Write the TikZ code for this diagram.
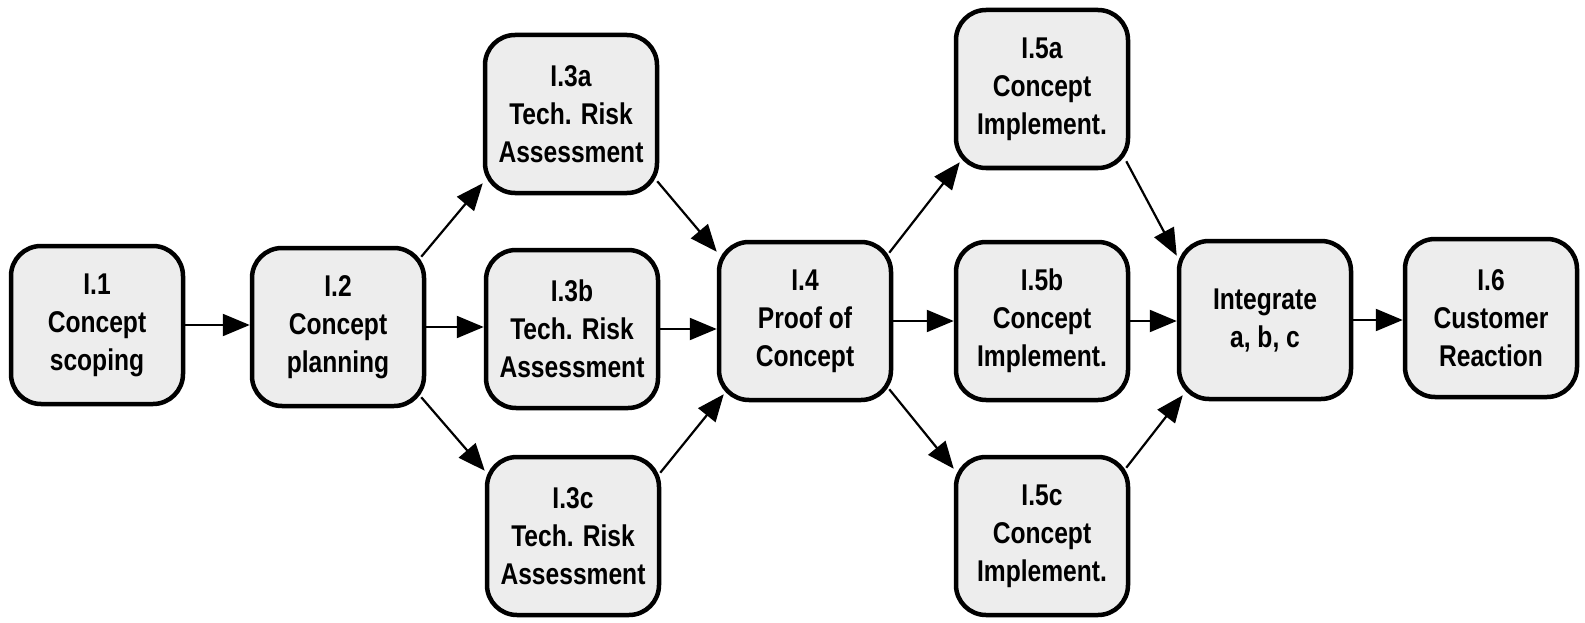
\documentclass[tikz,border=0pt]{standalone}
\usepackage{fontspec}
\newfontfamily\boxfont{Liberation Sans}[FakeStretch=0.82]
\usetikzlibrary{arrows.meta,calc}
\definecolor{boxfill}{RGB}{237,237,237}
\begin{document}
\begin{tikzpicture}[x=1pt,y=-1pt,
  stepbox/.style={draw=black, line width=4.5pt, fill=boxfill,
    rounded corners=30pt, minimum width=172pt, minimum height=158pt,
    inner sep=0pt, align=center,
    font=\boxfont\bfseries\fontsize{30}{38}\selectfont},
  link/.style={line width=2.2pt, -{Triangle[length=27pt,width=22pt]}}]
\useasboundingbox (0,0) rectangle (1585,623);

% activity boxes
\node[stepbox] (i1)  at (97,325)   {I.1\\Concept\\scoping};
\node[stepbox] (i2)  at (338,327)  {I.2\\Concept\\planning};
\node[stepbox] (i3a) at (571,114)  {I.3a\\Tech. Risk\\Assessment};
\node[stepbox] (i3b) at (572,329)  {I.3b\\Tech. Risk\\Assessment};
\node[stepbox] (i3c) at (573,536)  {I.3c\\Tech. Risk\\Assessment};
\node[stepbox] (i4)  at (805,321)  {I.4\\Proof of\\Concept};
\node[stepbox] (i5a) at (1042,89)  {I.5a\\Concept\\Implement.};
\node[stepbox] (i5b) at (1042,321) {I.5b\\Concept\\Implement.};
\node[stepbox] (i5c) at (1042,536) {I.5c\\Concept\\Implement.};
\node[stepbox] (int) at (1265,320) {Integrate\\a, b, c};
\node[stepbox] (i6)  at (1491,318) {I.6\\Customer\\Reaction};

% straight flow along the middle row
\draw[link] (i1.east)  -- (i1.east -| i2.west);
\draw[link] (i2.east)  -- (i2.east -| i3b.west);
\draw[link] (i3b.east) -- (i3b.east -| i4.west);
\draw[link] (i4.east)  -- (i4.east -| i5b.west);
\draw[link] (i5b.east) -- (i5b.east -| int.west);
\draw[link] (int.east) -- (int.east -| i6.west);

% branches out of I.2 and back into I.4
\draw[link] ($(i2.north east)+(-5,11)$)  -- ($(i3a.south west)+(0,-12)$);
\draw[link] ($(i2.south east)+(-5,-11)$) -- ($(i3c.north west)+(0,16)$);
\draw[link] ($(i3a.south east)+(-2,-14)$) -- ($(i4.north west)+(0,12)$);
\draw[link] ($(i3c.north east)+(-1,18)$)  -- ($(i4.south west)+(7,-8)$);

% branches out of I.4 and back into the integration step
\draw[link] ($(i4.north east)+(-4,13)$)  -- ($(i5a.south west)+(6,-8)$);
\draw[link] ($(i4.south east)+(-4,-13)$) -- ($(i5c.north west)+(0,14)$);
\draw[link] ($(i5a.south east)+(-4,-9)$) -- ($(int.north west)+(0,17)$);
\draw[link] ($(i5c.north east)+(-4,13)$) -- ($(int.south west)+(6,-6)$);
\end{tikzpicture}
\end{document}
